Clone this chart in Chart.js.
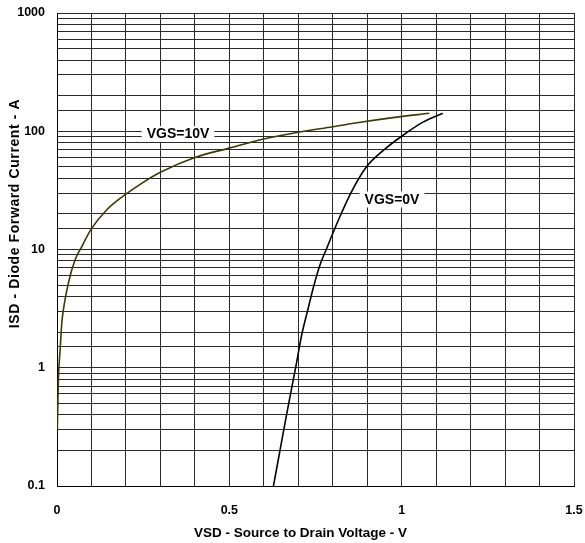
<!DOCTYPE html>
<html>
<head>
<meta charset="utf-8">
<script src="https://cdn.jsdelivr.net/npm/chart.js@4/dist/chart.umd.min.js"></script>
<style>
  html, body { margin: 0; padding: 0; background: #fff; }
  #wrap { width: 585px; height: 543px; position: relative; }
</style>
</head>
<body>
<div id="wrap"><canvas id="c"></canvas></div>
<script>
// Source-drain diode forward characteristic
const vgs10V = [0.001, 0.004, 0.009, 0.014, 0.020, 0.033, 0.052, 0.072, 0.10, 0.144, 0.19, 0.25, 0.30, 0.40, 0.50, 0.60, 0.70, 0.80, 0.88, 0.98, 1.08];
const vgs10I = [0.30, 0.79, 1.4, 2.4, 3.3, 5.2, 8.1, 10.6, 15, 21.6, 28, 37, 45, 60, 72, 86, 98, 109, 119, 131, 142];

const vgs0V = [0.628, 0.647, 0.666, 0.695, 0.710, 0.729, 0.744, 0.763, 0.781, 0.821, 0.855, 0.898, 0.947, 1.005, 1.063, 1.119];
const vgs0I = [0.1, 0.20, 0.40, 1.1, 1.9, 3.2, 4.8, 7.4, 10, 19, 31, 50, 69, 93, 120, 142];

// Curve labels (anchored in data coordinates)
const curveLabelText = ['VGS=10V', 'VGS=0V'];
const curveLabelV = [0.351, 0.972];
const curveLabelI = [94.8, 26.5];

const xTitle = 'VSD - Source to Drain Voltage - V';
const yTitle = 'ISD - Diode Forward Current - A';

const FONT = '"Liberation Sans", Arial, Helvetica, sans-serif';
const GRID = '#2a2a2a';

const toXY = (xs, ys) => xs.map((x, i) => ({ x: x, y: ys[i] }));

// Edge tick labels may overhang the plot; keep the plot area fixed by the layout padding
function noOverhang(s) {
  s.paddingLeft = 0; s.paddingRight = 0; s.paddingTop = 0; s.paddingBottom = 0;
}

const annotate = {
  id: 'annotate',
  afterDatasetsDraw(chart) {
    const ctx = chart.ctx;
    const xs = chart.scales.x, ys = chart.scales.y;
    ctx.save();
    ctx.font = 'bold 14px ' + FONT;
    ctx.textAlign = 'center';
    ctx.textBaseline = 'middle';
    curveLabelText.forEach((t, i) => {
      const px = xs.getPixelForValue(curveLabelV[i]);
      const py = ys.getPixelForValue(curveLabelI[i]);
      const w = ctx.measureText(t).width + 10;
      ctx.fillStyle = '#fff';
      ctx.fillRect(px - w / 2, py - 8, w, 16);
      ctx.fillStyle = '#000';
      ctx.fillText(t, px, py + 0.5);
    });
    ctx.restore();
  },
  afterDraw(chart) {
    const ctx = chart.ctx;
    ctx.save();
    ctx.fillStyle = '#000';
    ctx.textAlign = 'center';
    ctx.textBaseline = 'middle';
    ctx.font = 'bold 13.5px ' + FONT;
    ctx.fillText(xTitle, 300.5, 533);
    ctx.translate(15, 213.5);
    ctx.rotate(-Math.PI / 2);
    ctx.font = 'bold 14px ' + FONT;
    if ('letterSpacing' in ctx) ctx.letterSpacing = '0.6px';
    ctx.fillText(yTitle, 0, 0);
    ctx.restore();
  }
};

new Chart(document.getElementById('c'), {
  type: 'scatter',
  data: {
    datasets: [
      {
        label: 'VGS=10V',
        data: toXY(vgs10V, vgs10I),
        showLine: true,
        borderColor: '#3b3b00',
        borderWidth: 1.6,
        pointRadius: 0,
        cubicInterpolationMode: 'monotone'
      },
      {
        label: 'VGS=0V',
        data: toXY(vgs0V, vgs0I),
        showLine: true,
        borderColor: '#000',
        borderWidth: 1.6,
        pointRadius: 0,
        cubicInterpolationMode: 'monotone'
      }
    ]
  },
  options: {
    responsive: true,
    maintainAspectRatio: false,
    animation: false,
    layout: { padding: { left: 0, top: 13, right: 11, bottom: 0 } },
    plugins: {
      legend: { display: false },
      tooltip: { enabled: false }
    },
    scales: {
      x: {
        type: 'linear',
        min: 0,
        max: 1.5,
        afterFit(s) { s.height = 57; noOverhang(s); },
        border: { display: true, color: '#000', width: 1 },
        grid: { color: GRID, lineWidth: 1, drawTicks: false },
        ticks: {
          stepSize: 0.1,
          autoSkip: false,
          maxRotation: 0,
          padding: 17,
          color: '#000',
          font: { family: FONT, size: 12.5, weight: 'bold' },
          callback(v) {
            const h = v * 2;
            return Math.abs(h - Math.round(h)) < 1e-6 ? String(Math.round(h) / 2) : '';
          }
        }
      },
      y: {
        type: 'logarithmic',
        min: 0.1,
        max: 1000,
        afterFit(s) { s.width = 57; noOverhang(s); },
        border: { display: true, color: '#000', width: 1 },
        grid: { color: GRID, lineWidth: 1, drawTicks: false },
        ticks: {
          autoSkip: false,
          padding: 12,
          color: '#000',
          font: { family: FONT, size: 12.5, weight: 'bold' },
          callback(v) {
            const l = Math.log10(v);
            return Math.abs(l - Math.round(l)) < 1e-6 ? String(Number(v.toPrecision(6))) : '';
          }
        }
      }
    }
  },
  plugins: [annotate]
});
</script>
</body>
</html>
